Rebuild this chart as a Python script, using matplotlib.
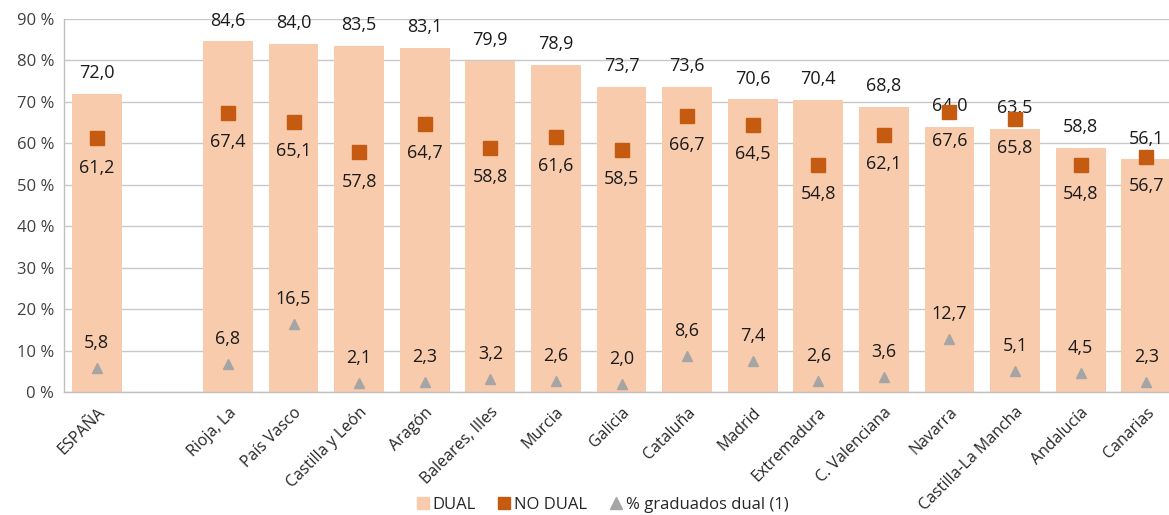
import matplotlib
matplotlib.use("Agg")
import matplotlib.pyplot as plt
import numpy as np
from matplotlib.lines import Line2D

plt.rcParams['font.family'] = ['Open Sans', 'DejaVu Sans']

categories = ["ESPAÑA", "", "Rioja, La", "País Vasco", "Castilla y León", "Aragón",
              "Baleares, Illes", "Murcia", "Galicia", "Cataluña", "Madrid", "Extremadura",
              "C. Valenciana", "Navarra", "Castilla-La Mancha", "Andalucía", "Canarias"]
dual = [72.0, np.nan, 84.6, 84.0, 83.5, 83.1, 79.9, 78.9, 73.7, 73.6, 70.6, 70.4, 68.8, 64.0, 63.5, 58.8, 56.1]
no_dual = [61.2, np.nan, 67.4, 65.1, 57.8, 64.7, 58.8, 61.6, 58.5, 66.7, 64.5, 54.8, 62.1, 67.6, 65.8, 54.8, 56.7]
grad_dual = [5.8, np.nan, 6.8, 16.5, 2.1, 2.3, 3.2, 2.6, 2.0, 8.6, 7.4, 2.6, 3.6, 12.7, 5.1, 4.5, 2.3]
yticks = [0, 10, 20, 30, 40, 50, 60, 70, 80, 90]

C_BAR = "#F8CBAD"
C_SQ = "#C55A11"
C_TRI = "#A5A5A5"
TXT = "#1A1A1A"

fig = plt.figure(figsize=(11.69, 5.15), dpi=100)
ax = fig.add_axes([64/1169, 1-392/515, (1179-64)/1169, (392-19)/515])

x = np.arange(len(categories))
ax.bar(x, dual, width=0.76, color=C_BAR, zorder=2)
ax.plot(x, no_dual, linestyle='none', marker='s', markersize=10.5, color=C_SQ, zorder=4)
ax.plot(x, grad_dual, linestyle='none', marker='^', markersize=7.5, color=C_TRI, zorder=4)

def fmt(v):
    return f"{v:.1f}".replace('.', ',')

for i in range(len(categories)):
    if not np.isnan(dual[i]):
        ax.annotate(fmt(dual[i]), (x[i], dual[i]), xytext=(0, 15), textcoords='offset points',
                    ha='center', va='center', fontsize=13, color=TXT, zorder=3)
        ax.annotate(fmt(no_dual[i]), (x[i], no_dual[i]), xytext=(0, -21), textcoords='offset points',
                    ha='center', va='center', fontsize=13, color=TXT, zorder=5)
        ax.annotate(fmt(grad_dual[i]), (x[i], grad_dual[i]), xytext=(0, 18), textcoords='offset points',
                    ha='center', va='center', fontsize=13, color=TXT, zorder=5)

ax.set_xlim(-0.5, len(categories) - 0.5)
ax.set_ylim(0, 90)
ax.set_yticks(yticks)
ax.set_yticklabels([f"{t} %" for t in yticks], fontsize=12, color="#404040")
ax.set_xticks(x)
ax.set_xticklabels(categories, rotation=45, ha='right', va='top', rotation_mode='anchor',
                   fontsize=11.5, color="#262626")
ax.tick_params(axis='y', length=0, pad=7)
ax.tick_params(axis='x', length=0, pad=9)
ax.grid(axis='y', color="#C8C8C8", linewidth=1, zorder=0)
ax.set_axisbelow(True)
for s in ['top', 'right']:
    ax.spines[s].set_visible(False)
for s in ['left', 'bottom']:
    ax.spines[s].set_color("#BFBFBF")
    ax.spines[s].set_linewidth(1)

handles = [Line2D([], [], linestyle='none', marker='s', markersize=8, color=C_BAR),
           Line2D([], [], linestyle='none', marker='s', markersize=8, color=C_SQ),
           Line2D([], [], linestyle='none', marker='^', markersize=8, color=C_TRI)]
fig.legend(handles, ["DUAL", "NO DUAL", "% graduados dual (1)"], loc='center',
           bbox_to_anchor=(603/1169, 1-505/515), ncol=3, frameon=False, fontsize=12,
           handlelength=0.6, handletextpad=0.3, columnspacing=1.4, labelcolor="#262626")

fig.savefig("out.png", dpi=100)
